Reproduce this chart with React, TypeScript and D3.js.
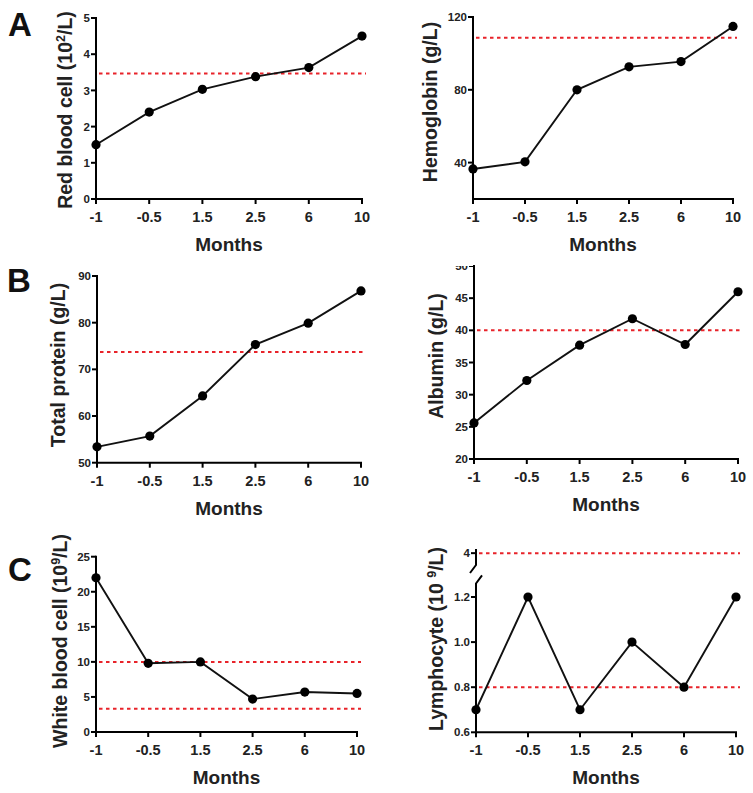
import React from 'react';
import * as d3 from 'd3';

const months = ['-1', '-0.5', '1.5', '2.5', '6', '10'];

const rbc = [1.5, 2.4, 3.03, 3.38, 3.63, 4.5];
const hemoglobin = [36.5, 40.4, 80, 92.6, 95.5, 114.8];
const totalProtein = [53.4, 55.7, 64.3, 75.3, 79.9, 86.8];
const albumin = [25.6, 32.2, 37.7, 41.8, 37.8, 46];
const wbc = [22, 9.8, 10, 4.7, 5.7, 5.5];
const lymphocyte = [0.7, 1.2, 0.7, 1.0, 0.8, 1.2];

const rbcRef = [3.47];
const hbRef = [108.6];
const tpRef = [73.7];
const albRef = [40];
const wbcRef = [10, 3.3];
const lymRef = [0.8, 4];

const rbcTicks = [0, 1, 2, 3, 4, 5];
const hbTicks = [40, 80, 120];
const tpTicks = [50, 60, 70, 80, 90];
const albTicks = [20, 25, 30, 35, 40, 45, 50];
const wbcTicks = [0, 5, 10, 15, 20, 25];
const lymTicksLow = [0.6, 0.8, 1.0, 1.2];
const lymTicksHigh = [4];

const FONT = '"Liberation Sans", Arial, Helvetica, sans-serif';
const RED = '#e8232a';

type PanelProps = {
  x0: number; x1: number; yTop: number; yBot: number;
  domain: [number, number];
  ticks: number[];
  values: number[];
  refs: number[];
  title: React.ReactNode;
  titleX: number; titleY: number;
  tickFmt?: (v: number) => string;
  broken?: boolean;
  clipTop?: number;
};

function Panel(p: PanelProps) {
  const x = d3.scalePoint<string>().domain(months).range([p.x0, p.x1]).padding(0);
  let y: (v: number) => number;
  let lower: d3.ScaleLinear<number, number> | null = null;
  let upper: d3.ScaleLinear<number, number> | null = null;
  if (p.broken) {
    lower = d3.scaleLinear().domain([0.6, 1.2]).range([p.yBot, 597]);
    upper = d3.scaleLinear().domain([3.9, 4.03]).range([567, 549]);
    y = (v: number) => (v < 2 ? lower!(v) : upper!(v));
  } else {
    const s = d3.scaleLinear().domain(p.domain).range([p.yBot, p.yTop]);
    y = (v: number) => s(v);
  }
  const fmt = p.tickFmt || ((v: number) => String(v));
  const line = d3.line<number>().x((_, i) => x(months[i]) as number).y((d) => y(d));
  const xAxisY = p.yBot;
  const allTicks = p.broken ? [...lymTicksLow, ...lymTicksHigh] : p.ticks;
  const clipId = 'clip' + Math.round(p.x0) + '_' + Math.round(p.yTop);
  return (
    <g>
      {p.clipTop !== undefined && (
        <defs>
          <clipPath id={clipId}>
            <rect x={p.x0 - 60} y={p.clipTop} width={400} height={400} />
          </clipPath>
        </defs>
      )}
      {p.refs.map((r, i) => (
        <line key={'r' + i} x1={p.x0 + 3} x2={p.x1 + 4} y1={y(r)} y2={y(r)}
          stroke={RED} strokeWidth={2} strokeDasharray="3.5,3.5" />
      ))}
      {p.broken ? (
        <g stroke="#000" strokeWidth={2} fill="none">
          <path d={`M${p.x0},${upper!(4.03)} L${p.x0},${upper!(3.9) - 2} L${p.x0 - 6},${upper!(3.9) + 6}`} />
          <path d={`M${p.x0 + 6},${lower!(1.26) - 8} L${p.x0},${lower!(1.26)} L${p.x0},${p.yBot}`} />
        </g>
      ) : (
        <line x1={p.x0} x2={p.x0} y1={p.yTop - 1} y2={p.yBot} stroke="#000" strokeWidth={2} />
      )}
      <g clipPath={p.clipTop !== undefined ? `url(#${clipId})` : undefined}>
        {allTicks.map((t) => (
          <g key={'yt' + t}>
            <line x1={p.x0 - 5} x2={p.x0} y1={y(t)} y2={y(t)} stroke="#000" strokeWidth={2} />
            <text x={p.x0 - 6} y={y(t)} dy="0.36em" textAnchor="end" fontFamily={FONT}
              fontWeight="bold" fontSize={11.5} fill="#222">{fmt(t)}</text>
          </g>
        ))}
      </g>
      <line x1={p.x0 - 1} x2={p.x1 + 1} y1={xAxisY} y2={xAxisY} stroke="#000" strokeWidth={2} />
      {months.map((m) => (
        <g key={'xt' + m}>
          <line x1={x(m)} x2={x(m)} y1={xAxisY} y2={xAxisY + 5} stroke="#000" strokeWidth={2} />
          <text x={x(m)} y={xAxisY + 23} textAnchor="middle" fontFamily={FONT}
            fontWeight="bold" fontSize={14.5} fill="#222">{m}</text>
        </g>
      ))}
      <text x={(p.x0 + p.x1) / 2} y={xAxisY + 52} textAnchor="middle" fontFamily={FONT}
        fontWeight="bold" fontSize={19} fill="#222">Months</text>
      <text transform={`translate(${p.titleX},${p.titleY}) rotate(-90)`} textAnchor="middle"
        fontFamily={FONT} fontWeight="bold" fontSize={19.5} fill="#222">{p.title}</text>
      <path d={line(p.values) || ''} fill="none" stroke="#111" strokeWidth={1.9} />
      {p.values.map((v, i) => (
        <circle key={'c' + i} cx={x(months[i])} cy={y(v)} r={4.6} fill="#000" />
      ))}
    </g>
  );
}

function Sup({ base, sup, tail }: { base: string; sup: string; tail: string }) {
  return (
    <>
      <tspan>{base}</tspan>
      <tspan dy={-7} fontSize={12.5}>{sup}</tspan>
      <tspan dy={7}>{tail}</tspan>
    </>
  );
}

export default function App() {
  return (
    <svg width={753} height={793} viewBox="0 0 753 793"
      style={{ position: 'absolute', left: 0, top: 0, background: '#fff', display: 'block' }}>
      <rect x={0} y={0} width={753} height={793} fill="#fff" />
      <text x={8} y={36} fontFamily={FONT} fontWeight="bold" fontSize={33} fill="#111">A</text>
      <text x={7} y={292} fontFamily={FONT} fontWeight="bold" fontSize={33} fill="#111">B</text>
      <text x={8} y={581} fontFamily={FONT} fontWeight="bold" fontSize={33} fill="#111">C</text>

      <Panel x0={96} x1={362} yTop={18} yBot={199} domain={[0, 5]} ticks={rbcTicks}
        values={rbc} refs={rbcRef} titleX={72} titleY={110}
        title={<Sup base="Red blood cell (10" sup="2" tail="/L)" />} />
      <Panel x0={473} x1={733} yTop={17} yBot={199} domain={[20, 120]} ticks={hbTicks}
        values={hemoglobin} refs={hbRef} titleX={437} titleY={102}
        title="Hemoglobin (g/L)" />
      <Panel x0={97} x1={361} yTop={276} yBot={462.7} domain={[50, 90]} ticks={tpTicks}
        values={totalProtein} refs={tpRef} titleX={65} titleY={365}
        title="Total protein (g/L)" />
      <Panel x0={474} x1={738} yTop={266} yBot={459} domain={[20, 50]} ticks={albTicks}
        values={albumin} refs={albRef} titleX={443} titleY={356} clipTop={266}
        title="Albumin (g/L)" />
      <Panel x0={96} x1={357} yTop={556.7} yBot={732} domain={[0, 25]} ticks={wbcTicks}
        values={wbc} refs={wbcRef} titleX={67} titleY={641}
        title={<Sup base="White blood cell (10" sup="9" tail="/L)" />} />
      <Panel x0={476} x1={736} yTop={549} yBot={732.3} domain={[0.6, 1.26]} ticks={lymTicksLow}
        values={lymphocyte} refs={lymRef} titleX={443} titleY={639} broken
        tickFmt={(v) => (v === 4 ? '4' : v.toFixed(1))}
        title={<Sup base="Lymphocyte (10 " sup="9" tail="/L)" />} />
    </svg>
  );
}
